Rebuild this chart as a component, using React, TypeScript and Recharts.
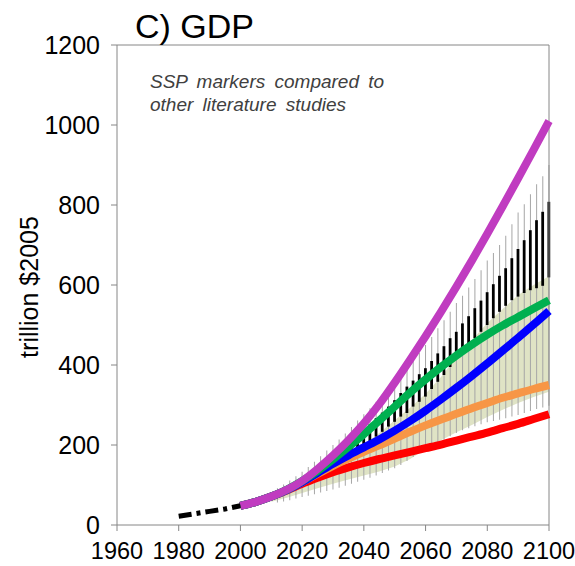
import { ComposedChart, Line, Area, Bar, XAxis, YAxis, ReferenceLine } from 'recharts'

// historical GDP (dash-dot)
const histYears = [1980, 1985, 1990, 1995, 2000]
const histGdp = [22, 28, 34, 40, 48]

// SSP marker scenarios, trillion $2005
const sspYears = [2000, 2005, 2010, 2015, 2020, 2025, 2030, 2035, 2040, 2045, 2050, 2055, 2060, 2065, 2070, 2075, 2080, 2085, 2090, 2095, 2100]
const ssp1 = [48, 58, 71, 88, 110, 135, 164, 195, 227, 261, 296, 331, 364, 395, 424, 451, 476, 499, 520, 541, 562]
const ssp2 = [48, 58, 71, 87, 107, 130, 153, 174, 194, 214, 236, 260, 286, 314, 343, 373, 404, 436, 468, 501, 535]
const ssp3 = [48, 58, 71, 86, 103, 118, 132, 144, 155, 165, 174, 183, 192, 201, 211, 221, 231, 242, 253, 265, 277]
const ssp4 = [48, 58, 71, 87, 107, 128, 148, 166, 183, 199, 216, 233, 249, 264, 278, 292, 305, 318, 329, 340, 350]
const ssp5 = [48, 58, 71, 88, 110, 140, 174, 212, 254, 302, 356, 413, 472, 533, 596, 661, 728, 797, 867, 938, 1010]

// literature range (shaded)
const bandYears = [2010, 2015, 2020, 2025, 2030, 2035, 2040, 2045, 2050, 2055, 2060, 2065, 2070, 2075, 2080, 2085, 2090, 2095, 2100]
const bandLow = [58, 68, 80, 92, 103, 114, 124, 134, 146, 165, 190, 212, 232, 250, 270, 288, 305, 320, 333]
const bandHigh = [75, 88, 102, 122, 145, 170, 200, 230, 262, 293, 328, 370, 420, 462, 505, 540, 575, 600, 622]

// literature min-max whiskers
const whiskerYears = [2012, 2014, 2016, 2018, 2020, 2022, 2024, 2026, 2028, 2030, 2032, 2034, 2036, 2038, 2040, 2042, 2044, 2046, 2048, 2050, 2052, 2054, 2056, 2058, 2060, 2062, 2064, 2066, 2068, 2070, 2072, 2074, 2076, 2078, 2080, 2082, 2084, 2086, 2088, 2090, 2092, 2094, 2096, 2098, 2100]
const whiskerLow = [56, 59, 62, 66, 70, 73, 77, 81, 85, 89, 93, 98, 103, 108, 113, 118, 124, 130, 136, 142, 150, 160, 170, 180, 190, 198, 206, 214, 222, 230, 237, 242, 247, 252, 257, 260, 263, 267, 271, 275, 280, 285, 290, 294, 298]
const whiskerHigh = [92, 101, 111, 122, 133, 145, 158, 172, 186, 200, 214, 229, 245, 261, 277, 292, 308, 323, 338, 354, 372, 390, 410, 430, 450, 470, 492, 512, 533, 555, 573, 594, 615, 637, 661, 680, 700, 723, 752, 781, 802, 827, 852, 872, 900]

// literature interquartile bars
const barYears = [2020, 2022, 2024, 2026, 2028, 2030, 2032, 2034, 2036, 2038, 2040, 2042, 2044, 2046, 2048, 2050, 2052, 2054, 2056, 2058, 2060, 2062, 2064, 2066, 2068, 2070, 2072, 2074, 2076, 2078, 2080, 2082, 2084, 2086, 2088, 2090, 2092, 2094, 2096, 2098, 2100]
const barLow = [99, 106, 114, 122, 131, 140, 150, 160, 172, 184, 196, 208, 221, 233, 246, 258, 271, 280, 296, 308, 321, 340, 358, 375, 395, 415, 433, 450, 467, 483, 500, 517, 533, 548, 562, 571, 580, 587, 592, 598, 619]
const barHigh = [115, 124, 134, 145, 156, 168, 180, 193, 207, 221, 237, 252, 267, 281, 296, 312, 330, 346, 361, 377, 392, 410, 429, 447, 467, 483, 504, 522, 542, 561, 582, 602, 623, 642, 667, 690, 712, 737, 762, 783, 808]

const xTicks = [1960, 1980, 2000, 2020, 2040, 2060, 2080, 2100]
const yTicks = [0, 200, 400, 600, 800, 1000, 1200]

const pick = (years: number[], vals: number[], y: number) => {
  const i = years.indexOf(y)
  return i >= 0 ? vals[i] : null
}

const allYears = Array.from(new Set([...histYears, ...sspYears, ...bandYears, ...whiskerYears, ...barYears])).sort((a, b) => a - b)

const rows = allYears.map((year) => ({
  year,
  hist: pick(histYears, histGdp, year),
  ssp1: pick(sspYears, ssp1, year),
  ssp2: pick(sspYears, ssp2, year),
  ssp3: pick(sspYears, ssp3, year),
  ssp4: pick(sspYears, ssp4, year),
  ssp5: pick(sspYears, ssp5, year),
  band: pick(bandYears, bandLow, year) != null ? [pick(bandYears, bandLow, year), pick(bandYears, bandHigh, year)] : null,
  whisker: pick(whiskerYears, whiskerLow, year) != null ? [pick(whiskerYears, whiskerLow, year), pick(whiskerYears, whiskerHigh, year)] : null,
  box: pick(barYears, barLow, year) != null ? [pick(barYears, barLow, year), pick(barYears, barHigh, year)] : null,
}))

const FONT = '"Liberation Sans", Arial, sans-serif'
const AXIS = '#868686'

export default function App() {
  return (
    <div style={{ position: 'absolute', left: 0, top: 0, width: 575, height: 566, background: '#fff', fontFamily: FONT }}>
      <ComposedChart width={575} height={566} data={rows} margin={{ top: 45, right: 26, bottom: 0, left: 0 }}>
        <XAxis
          xAxisId="main"
          type="number"
          dataKey="year"
          domain={[1960, 2100]}
          ticks={xTicks}
          height={41}
          stroke={AXIS}
          tickSize={6}
          tickMargin={11}
          tick={{ fill: '#000', fontSize: 23.5, fontFamily: FONT }}
        />
        <XAxis xAxisId="w" orientation="top" height={0} type="number" dataKey="year" domain={[1960, 2100]} hide />
        <XAxis xAxisId="b" orientation="top" height={0} type="number" dataKey="year" domain={[1960, 2100]} hide />
        <YAxis
          domain={[0, 1200]}
          ticks={yTicks}
          width={117}
          stroke={AXIS}
          tickSize={6}
          tickMargin={11}
          tick={{ fill: '#000', fontSize: 25, fontFamily: FONT }}
        />
        <ReferenceLine xAxisId="main" y={1200} stroke={AXIS} />
        <ReferenceLine xAxisId="main" x={2100} stroke={AXIS} />

        <Area xAxisId="main" dataKey="band" fill="#dfe3c5" fillOpacity={1} stroke="none" connectNulls isAnimationActive={false} />
        <Bar xAxisId="w" dataKey="whisker" fill="#a6a6a6" barSize={1} isAnimationActive={false} />
        <Bar xAxisId="b" dataKey="box" fill="#000" barSize={4} isAnimationActive={false} />

        <Line xAxisId="main" type="monotone" dataKey="ssp3" stroke="#ff0000" strokeWidth={8} dot={false} activeDot={false} connectNulls isAnimationActive={false} />
        <Line xAxisId="main" type="monotone" dataKey="ssp4" stroke="#f79646" strokeWidth={8} dot={false} activeDot={false} connectNulls isAnimationActive={false} />
        <Line xAxisId="main" type="monotone" dataKey="ssp2" stroke="#0000ff" strokeWidth={8} dot={false} activeDot={false} connectNulls isAnimationActive={false} />
        <Line xAxisId="main" type="monotone" dataKey="ssp1" stroke="#00b050" strokeWidth={8} dot={false} activeDot={false} connectNulls isAnimationActive={false} />
        <Line xAxisId="main" type="monotone" dataKey="ssp5" stroke="#c03cc0" strokeWidth={8} dot={false} activeDot={false} connectNulls isAnimationActive={false} />
        <Line xAxisId="main" type="linear" dataKey="hist" stroke="#000" strokeWidth={5} strokeDasharray="13 5 4 5" dot={false} activeDot={false} connectNulls isAnimationActive={false} />
      </ComposedChart>

      <div style={{ position: 'absolute', left: 135, top: 9, fontSize: 34, lineHeight: '34px', color: '#000', whiteSpace: 'nowrap' }}>C) GDP</div>
      <div style={{ position: 'absolute', left: 150, top: 70, fontSize: 19, lineHeight: '23px', fontStyle: 'italic', color: '#404040', whiteSpace: 'nowrap', wordSpacing: 4 }}>
        SSP markers compared to
        <br />
        other literature studies
      </div>
      <div
        style={{
          position: 'absolute',
          left: 29,
          top: 287,
          transform: 'translate(-50%, -50%) rotate(-90deg)',
          fontSize: 25,
          color: '#000',
          whiteSpace: 'nowrap',
        }}
      >
        trillion $2005
      </div>
    </div>
  )
}
